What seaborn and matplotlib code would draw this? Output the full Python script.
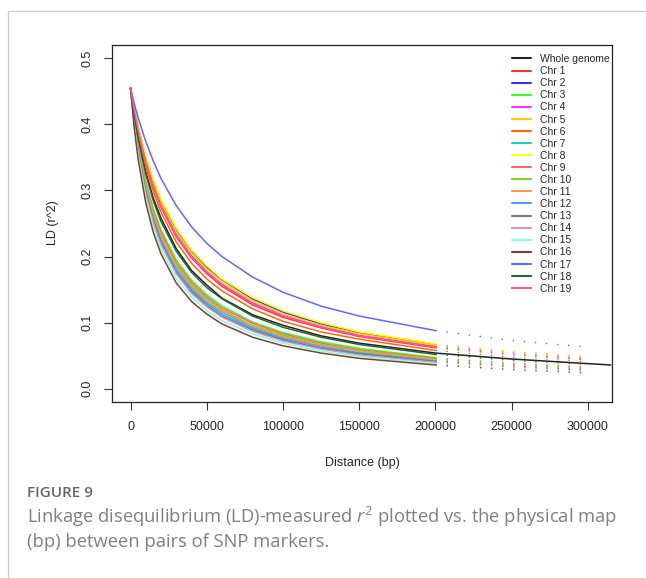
import matplotlib
matplotlib.use('Agg')
import matplotlib.pyplot as plt
import seaborn as sns
from matplotlib.patches import Rectangle

distance = [0, 2500, 5000, 10000, 15000, 20000, 30000, 40000, 50000, 60000,
            80000, 100000, 125000, 150000, 200000, 250000, 300000]
whole_distance = distance + [315000]

r2_whole = [.455, .415, .381, .328, .288, .258, .212, .179, .157, .137, .112, .096, .080, .069, .054, .045, .038, .036]
r2_chr1 = [.455, .420, .391, .343, .305, .275, .230, .198, .174, .155, .127, .108, .092, .079, .062, .052, .044]
r2_chr2 = [.455, .423, .396, .350, .314, .285, .241, .209, .184, .165, .136, .116, .098, .085, .067, .056, .048]
r2_chr3 = [.455, .409, .371, .314, .272, .240, .195, .164, .142, .125, .101, .085, .071, .061, .047, .039, .033]
r2_chr4 = [.455, .421, .392, .345, .308, .278, .234, .201, .177, .158, .130, .111, .094, .081, .064, .053, .045]
r2_chr5 = [.455, .422, .394, .348, .311, .282, .237, .205, .181, .161, .133, .113, .096, .083, .066, .054, .046]
r2_chr6 = [.455, .418, .387, .336, .298, .267, .222, .190, .166, .148, .121, .102, .086, .075, .058, .048, .041]
r2_chr7 = [.455, .404, .363, .303, .259, .228, .183, .153, .131, .116, .093, .078, .065, .055, .043, .035, .030]
r2_chr8 = [.455, .423, .396, .352, .316, .287, .243, .210, .186, .166, .138, .118, .100, .086, .068, .057, .048]
r2_chr9 = [.455, .407, .369, .311, .268, .237, .191, .161, .139, .122, .099, .083, .069, .059, .046, .038, .032]
r2_chr10 = [.455, .406, .367, .308, .265, .233, .188, .158, .136, .119, .096, .081, .067, .058, .045, .037, .031]
r2_chr11 = [.455, .405, .365, .306, .263, .231, .186, .156, .134, .118, .095, .079, .066, .057, .044, .036, .031]
r2_chr12 = [.455, .402, .361, .300, .256, .224, .179, .150, .129, .113, .091, .076, .063, .054, .042, .034, .029]
r2_chr13 = [.455, .401, .359, .297, .253, .221, .176, .147, .126, .110, .089, .074, .061, .053, .041, .033, .028]
r2_chr14 = [.455, .400, .357, .294, .250, .218, .174, .144, .124, .108, .087, .072, .060, .051, .040, .033, .027]
r2_chr15 = [.455, .397, .352, .288, .244, .211, .167, .139, .118, .103, .083, .069, .057, .049, .038, .031, .026]
r2_chr16 = [.455, .393, .347, .281, .236, .204, .160, .132, .113, .098, .078, .065, .054, .046, .036, .029, .024]
r2_chr17 = [.455, .431, .410, .374, .344, .318, .277, .245, .220, .200, .169, .146, .125, .110, .088, .073, .063]
r2_chr18 = [.455, .413, .379, .325, .284, .253, .208, .176, .153, .136, .110, .093, .078, .067, .052, .043, .037]
r2_chr19 = [.455, .421, .391, .344, .307, .277, .232, .200, .176, .157, .129, .110, .093, .080, .063, .052, .044]

chr_names = ['Chr %d' % i for i in range(1, 20)]
chr_values = [r2_chr1, r2_chr2, r2_chr3, r2_chr4, r2_chr5, r2_chr6, r2_chr7,
              r2_chr8, r2_chr9, r2_chr10, r2_chr11, r2_chr12, r2_chr13,
              r2_chr14, r2_chr15, r2_chr16, r2_chr17, r2_chr18, r2_chr19]
chr_colors = ['#ff3333', '#3333ff', '#33ff33', '#ff33ff', '#ffcc00', '#ff6611',
              '#22cccc', '#ffff00', '#ff6666', '#88cc22', '#ff9944', '#5599ee',
              '#777777', '#cc99cc', '#88ffdd', '#774433', '#6666ff', '#226633',
              '#ff5599']

x_ticks = [0, 50000, 100000, 150000, 200000, 250000, 300000]
y_ticks = [0.0, 0.1, 0.2, 0.3, 0.4, 0.5]

sns.set_style('white')
plt.rcParams['font.family'] = ['Liberation Sans', 'DejaVu Sans']
plt.rcParams['mathtext.fontset'] = 'custom'
plt.rcParams['mathtext.it'] = 'Open Sans:italic'
plt.rcParams['mathtext.rm'] = 'Open Sans'

fig = plt.figure(figsize=(6.46, 5.78), dpi=100)
ax = fig.add_axes([112 / 646, 176 / 578, 500 / 646, 357 / 578])

# whole genome first, chromosomes drawn over it
sns.lineplot(x=whole_distance, y=r2_whole, color='#222222', lw=1.1,
             label='Whole genome', sort=False, estimator=None, ax=ax)
n_solid = distance.index(200000) + 1
for name, vals, col in zip(chr_names, chr_values, chr_colors):
    sns.lineplot(x=distance[:n_solid], y=vals[:n_solid], color=col, lw=1.1,
                 label=name, sort=False, estimator=None, ax=ax)
    # sparse pairs at long distance show up as scattered dots
    sns.lineplot(x=distance[n_solid - 1:], y=vals[n_solid - 1:], color=col,
                 lw=1.0, linestyle=(0, (1, 7)), sort=False, estimator=None,
                 legend=False, ax=ax)

ax.set_xlim(-12150, 315750)
ax.set_ylim(-0.02, 0.52)
ax.set_xticks(x_ticks)
ax.set_xticklabels([str(t) for t in x_ticks])
ax.set_yticks(y_ticks)
ax.set_yticklabels(['%.1f' % t for t in y_ticks], rotation=90, va='center')
ax.tick_params(direction='out', length=5.5, width=0.8, labelsize=9, pad=8,
               color='#333333', bottom=True, left=True)
ax.set_xlabel('')
ax.set_ylabel('')
for sp in ax.spines.values():
    sp.set_visible(True)
    sp.set_color('#222222')
    sp.set_linewidth(0.9)

leg = ax.legend(loc='upper right', bbox_to_anchor=(1.006, 0.989), frameon=False,
                fontsize=7.5, handlelength=1.8, handletextpad=0.85,
                labelspacing=0.2, borderaxespad=0.1)
for h in leg.legend_handles:
    h.set_linewidth(1.5)

fig.text(362 / 646, 1 - 463 / 578, 'Distance (bp)', ha='center', va='center', fontsize=9)
fig.text(53 / 646, 1 - 223 / 578, 'LD (r^2)', ha='center', va='center',
         rotation=90, fontsize=9)

# card frame and caption
fig.patches.append(Rectangle((8 / 646, -0.1), 2, 1.1 - 11 / 578, fill=False,
                             ec='#cccccc', lw=1, transform=fig.transFigure))
fig.text(27 / 646, 1 - 493 / 578, 'FIGURE 9', family=['Open Sans', 'DejaVu Sans'],
         fontweight='semibold', fontsize=11, color='#666666', va='center')
fig.text(27 / 646, 1 - 517 / 578,
         'Linkage disequilibrium (LD)-measured $r^2$ plotted vs. the physical map',
         family=['Open Sans', 'DejaVu Sans'], fontsize=13.2, color='#808080', va='center')
fig.text(27 / 646, 1 - 542 / 578, '(bp) between pairs of SNP markers.',
         family=['Open Sans', 'DejaVu Sans'], fontsize=13.2, color='#808080', va='center')

fig.savefig('out.png', dpi=100)
